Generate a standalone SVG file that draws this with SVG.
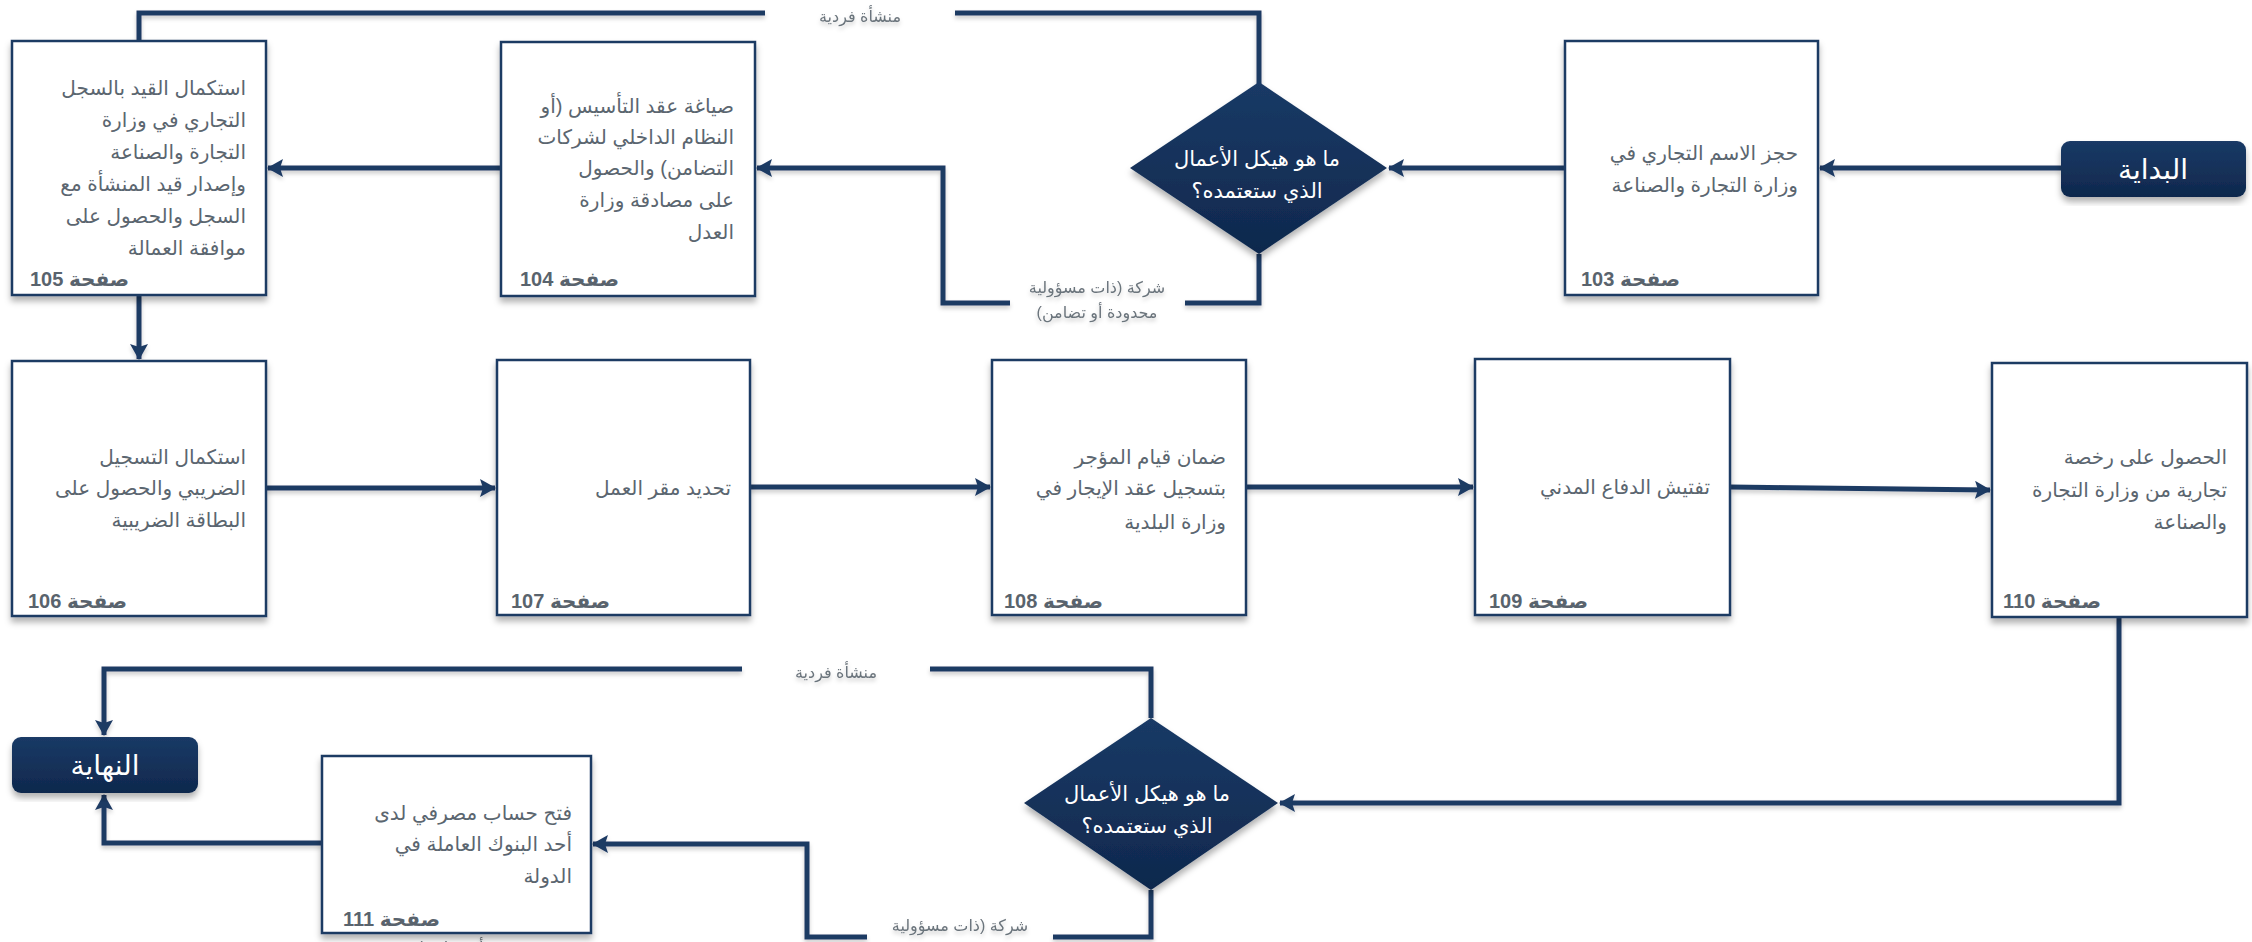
<svg xmlns="http://www.w3.org/2000/svg" width="2252" height="942" viewBox="0 0 2252 942">
<defs>
<style>
.box{fill:#ffffff;stroke:#1F3A64;stroke-width:2.5}
.t{font-family:"Liberation Sans","DejaVu Sans",sans-serif;font-size:20px;fill:#5B6670;direction:rtl;text-anchor:start}
.pg{font-family:"Liberation Sans","DejaVu Sans",sans-serif;font-size:20px;font-weight:bold;fill:#59636D;direction:rtl;text-anchor:end}
.w{font-family:"Liberation Sans","DejaVu Sans",sans-serif;font-size:21px;fill:#ffffff;direction:rtl;text-anchor:middle}
.big{font-size:28px}
.lbl{font-family:"Liberation Sans","DejaVu Sans",sans-serif;font-size:16px;fill:#6B747C;direction:rtl;text-anchor:middle}
.c{fill:none;stroke:#1F3A64;stroke-width:5}
.a{marker-end:url(#ah)}
</style>
<linearGradient id="ng" x1="0" y1="0" x2="0" y2="1">
<stop offset="0" stop-color="#1A3A66"/>
<stop offset="1" stop-color="#0F284D"/>
</linearGradient>
<filter id="sh" x="-10%" y="-10%" width="120%" height="125%">
<feDropShadow dx="0" dy="5" stdDeviation="3" flood-color="#000" flood-opacity="0.3"/>
</filter>
<filter id="lsh" x="-5%" y="-5%" width="110%" height="120%">
<feDropShadow dx="0" dy="3" stdDeviation="2" flood-color="#000" flood-opacity="0.2"/>
</filter>
<marker id="ah" markerUnits="userSpaceOnUse" markerWidth="16" markerHeight="18" refX="15" refY="9" orient="auto">
<path d="M0,0 L16,9 L0,18 L3,9 z" fill="#1F3A64"/>
</marker>
</defs>
<rect width="2252" height="942" fill="#ffffff"/>

<g id="connectors" filter="url(#lsh)">
<path class="c a" d="M2061,168 L1820,168"/>
<path class="c a" d="M1565,168 L1389,168"/>
<path class="c" d="M1259,100 L1259,13 L955,13"/>
<path class="c" d="M765,13 L139,13 L139,41"/>
<path class="c" d="M1259,254 L1259,303 L1185,303"/>
<path class="c a" d="M1010,303 L943,303 L943,168 L757,168"/>
<path class="c a" d="M501,168 L268,168"/>
<path class="c a" d="M139,295 L139,359"/>
<path class="c a" d="M266,488 L495,488"/>
<path class="c a" d="M750,487 L990,487"/>
<path class="c a" d="M1246,487 L1473,487"/>
<path class="c a" d="M1730,487 L1990,490"/>
<path class="c a" d="M2119,617 L2119,803 L1280,803"/>
<path class="c" d="M1151,718 L1151,669 L930,669"/>
<path class="c a" d="M742,669 L104,669 L104,735"/>
<path class="c" d="M1151,890 L1151,937 L1053,937"/>
<path class="c a" d="M867,937 L807,937 L807,844 L593,844"/>
<path class="c a" d="M322,843 L104,843 L104,795"/>
<text class="lbl" x="860" y="22">منشأة فردية</text>
<text class="lbl" x="1097" y="293">شركة (ذات مسؤولية</text>
<text class="lbl" x="1097" y="318">محدودة أو تضامن)</text>
<text class="lbl" x="836" y="678">منشأة فردية</text>
<text class="lbl" x="960" y="931">شركة (ذات مسؤولية</text>
<text class="lbl" x="478" y="953">محدودة أو تضامن)</text>
</g>

<g id="start">
<rect x="2061" y="141" width="185" height="56" rx="9" fill="url(#ng)" filter="url(#sh)"/>
<text class="w big" x="2153" y="179">البداية</text>
</g>

<g id="n103">
<rect class="box" x="1565" y="41" width="253" height="254" filter="url(#sh)"/>
<text class="t" x="1798" y="160">حجز الاسم التجاري في</text>
<text class="t" x="1798" y="192">وزارة التجارة والصناعة</text>
<text class="pg" x="1581" y="286">صفحة 103</text>
</g>

<g id="d1">
<polygon points="1259,82 1387,168 1259,254 1130,168" fill="url(#ng)" filter="url(#sh)"/>
<text class="w" x="1257" y="166">ما هو هيكل الأعمال</text>
<text class="w" x="1257" y="198">الذي ستعتمده؟</text>
</g>

<g id="n104">
<rect class="box" x="501" y="42" width="254" height="254" filter="url(#sh)"/>
<text class="t" x="734" y="113">صياغة عقد التأسيس (أو</text>
<text class="t" x="734" y="144">النظام الداخلي لشركات</text>
<text class="t" x="734" y="175">التضامن) والحصول</text>
<text class="t" x="734" y="207">على مصادقة وزارة</text>
<text class="t" x="734" y="239">العدل</text>
<text class="pg" x="520" y="286">صفحة 104</text>
</g>

<g id="n105">
<rect class="box" x="12" y="41" width="254" height="254" filter="url(#sh)"/>
<text class="t" x="246" y="95">استكمال القيد بالسجل</text>
<text class="t" x="246" y="127">التجاري في وزارة</text>
<text class="t" x="246" y="159">التجارة والصناعة</text>
<text class="t" x="246" y="191">وإصدار قيد المنشأة مع</text>
<text class="t" x="246" y="223">السجل والحصول على</text>
<text class="t" x="246" y="255">موافقة العمالة</text>
<text class="pg" x="30" y="286">صفحة 105</text>
</g>

<g id="n106">
<rect class="box" x="12" y="361" width="254" height="255" filter="url(#sh)"/>
<text class="t" x="246" y="464">استكمال التسجيل</text>
<text class="t" x="246" y="495">الضريبي والحصول على</text>
<text class="t" x="246" y="527">البطاقة الضريبية</text>
<text class="pg" x="28" y="608">صفحة 106</text>
</g>

<g id="n107">
<rect class="box" x="497" y="360" width="253" height="255" filter="url(#sh)"/>
<text class="t" x="731" y="495">تحديد مقر العمل</text>
<text class="pg" x="511" y="608">صفحة 107</text>
</g>

<g id="n108">
<rect class="box" x="992" y="360" width="254" height="255" filter="url(#sh)"/>
<text class="t" x="1226" y="464">ضمان قيام المؤجر</text>
<text class="t" x="1226" y="495">بتسجيل عقد الإيجار في</text>
<text class="t" x="1226" y="529">وزارة البلدية</text>
<text class="pg" x="1004" y="608">صفحة 108</text>
</g>

<g id="n109">
<rect class="box" x="1475" y="359" width="255" height="256" filter="url(#sh)"/>
<text class="t" x="1710" y="494">تفتيش الدفاع المدني</text>
<text class="pg" x="1489" y="608">صفحة 109</text>
</g>

<g id="n110">
<rect class="box" x="1992" y="363" width="255" height="254" filter="url(#sh)"/>
<text class="t" x="2227" y="464">الحصول على رخصة</text>
<text class="t" x="2227" y="497">تجارية من وزارة التجارة</text>
<text class="t" x="2227" y="529">والصناعة</text>
<text class="pg" x="2003" y="608">صفحة 110</text>
</g>

<g id="d2">
<polygon points="1151,718 1278,803 1151,890 1024,803" fill="url(#ng)" filter="url(#sh)"/>
<text class="w" x="1147" y="801">ما هو هيكل الأعمال</text>
<text class="w" x="1147" y="833">الذي ستعتمده؟</text>
</g>

<g id="n111">
<rect class="box" x="322" y="756" width="269" height="177" filter="url(#sh)"/>
<text class="t" x="572" y="820">فتح حساب مصرفي لدى</text>
<text class="t" x="572" y="851">أحد البنوك العاملة في</text>
<text class="t" x="572" y="883">الدولة</text>
<text class="pg" x="343" y="926">صفحة 111</text>
</g>

<g id="end">
<rect x="12" y="737" width="186" height="56" rx="9" fill="url(#ng)" filter="url(#sh)"/>
<text class="w big" x="105" y="775">النهاية</text>
</g>
</svg>
